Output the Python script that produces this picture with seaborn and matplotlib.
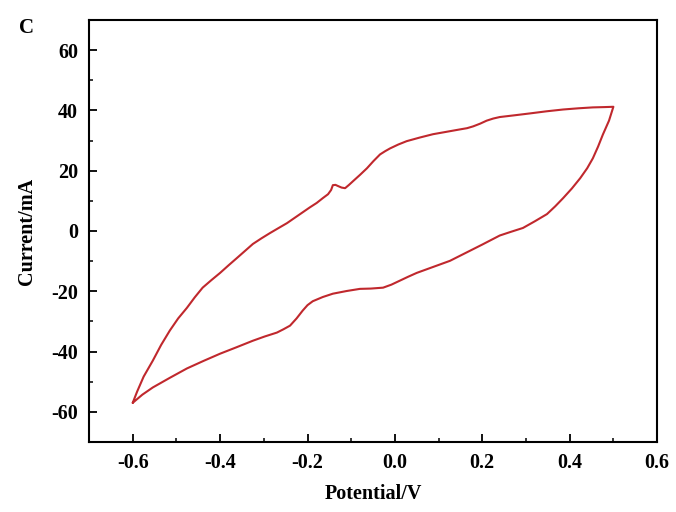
import matplotlib
matplotlib.use("Agg")
import matplotlib.pyplot as plt
from matplotlib.ticker import MultipleLocator
import seaborn as sns
import pandas as pd

# forward scan (upper branch), -0.6 V -> 0.5 V
fwd_potential = [-0.600, -0.590, -0.575, -0.554, -0.535, -0.515, -0.496, -0.476, -0.458,
                 -0.440, -0.420, -0.400, -0.380, -0.361, -0.343, -0.325, -0.305, -0.286,
                 -0.266, -0.247, -0.229, -0.211, -0.195, -0.179, -0.165, -0.153, -0.146,
                 -0.142, -0.136, -0.130, -0.122, -0.114, -0.105, -0.096, -0.080, -0.064,
                 -0.049, -0.034, -0.022, -0.011, 0.008, 0.027, 0.057, 0.087, 0.118,
                 0.149, 0.165, 0.179, 0.195, 0.210, 0.225, 0.240, 0.275, 0.309,
                 0.347, 0.385, 0.420, 0.453, 0.480, 0.500]
fwd_current = [-57.0, -53.3, -48.3, -43.0, -37.8, -33.0, -29.0, -25.5, -22.0,
               -18.8, -16.3, -13.9, -11.3, -8.9, -6.6, -4.3, -2.4, -0.7,
               1.0, 2.6, 4.4, 6.2, 7.8, 9.3, 10.9, 12.2, 13.6,
               15.2, 15.3, 14.9, 14.4, 14.2, 15.3, 16.5, 18.6, 20.8,
               23.2, 25.4, 26.5, 27.4, 28.7, 29.8, 31.0, 32.1, 32.9,
               33.7, 34.1, 34.7, 35.6, 36.6, 37.3, 37.8, 38.4, 39.0,
               39.7, 40.3, 40.7, 41.0, 41.1, 41.2]

# reverse scan (lower branch), 0.5 V -> -0.6 V
rev_potential = [0.500, 0.490, 0.476, 0.465, 0.453, 0.440, 0.424, 0.405, 0.385,
                 0.367, 0.348, 0.320, 0.293, 0.265, 0.240, 0.200, 0.163, 0.126,
                 0.088, 0.050, 0.030, 0.011, -0.008, -0.027, -0.055, -0.080,
                 -0.110, -0.142, -0.165, -0.188, -0.200, -0.211, -0.225, -0.240,
                 -0.255, -0.270, -0.298, -0.325, -0.363, -0.400, -0.438, -0.476,
                 -0.515, -0.554, -0.578, -0.600]
rev_current = [41.2, 36.6, 32.0, 28.0, 24.1, 20.8, 17.5, 14.1, 10.9,
               8.2, 5.6, 3.2, 1.0, -0.3, -1.5, -4.5, -7.2, -9.9,
               -11.9, -13.9, -15.2, -16.5, -17.8, -18.8, -19.1, -19.2,
               -19.9, -20.8, -21.9, -23.3, -24.6, -26.4, -29.0, -31.4,
               -32.6, -33.7, -35.0, -36.4, -38.6, -40.7, -43.1, -45.6,
               -48.7, -51.9, -54.3, -57.0]

df = pd.DataFrame({
    "Potential": fwd_potential + rev_potential,
    "Current": fwd_current + rev_current,
})

sns.set_style("ticks")
plt.rcParams["font.family"] = ["Liberation Serif", "DejaVu Serif"]
plt.rcParams["font.weight"] = "bold"
plt.rcParams["text.color"] = "black"
plt.rcParams["axes.labelcolor"] = "black"

fig = plt.figure(figsize=(6.76, 5.12), dpi=100)
ax = fig.add_axes([0.1317, 0.1367, 0.8403, 0.8243])

sns.lineplot(data=df, x="Potential", y="Current", sort=False, estimator=None,
             color="#c0282d", linewidth=1.5, ax=ax)

ax.set_xlim(-0.7, 0.6)
ax.set_ylim(-70, 70)
ax.xaxis.set_minor_locator(MultipleLocator(0.1))
ax.yaxis.set_minor_locator(MultipleLocator(10))
ax.set_xticks([-0.6, -0.4, -0.2, 0.0, 0.2, 0.4, 0.6])
ax.set_xticklabels(["-0.6", "-0.4", "-0.2", "0.0", "0.2", "0.4", "0.6"])
ax.set_yticks([-60, -40, -20, 0, 20, 40, 60])
ax.set_yticklabels(["-60", "-40", "-20", "0", "20", "40", "60"])

ax.tick_params(which="major", direction="in", length=6, width=1.3, labelsize=14.5,
               pad=8, colors="black")
ax.tick_params(which="minor", direction="in", length=3, width=1.1, colors="black")
for s in ax.spines.values():
    s.set_linewidth(1.5)
    s.set_color("black")
    s.set_visible(True)

ax.set_xlabel("Potential/V", fontsize=14.5, fontweight="bold", labelpad=8)
ax.set_ylabel("Current/mA", fontsize=14.5, fontweight="bold", labelpad=10)

fig.text(0.028, 0.945, "C", fontsize=15, fontweight="bold", ha="left", va="center")

fig.savefig("out.png", dpi=100)
